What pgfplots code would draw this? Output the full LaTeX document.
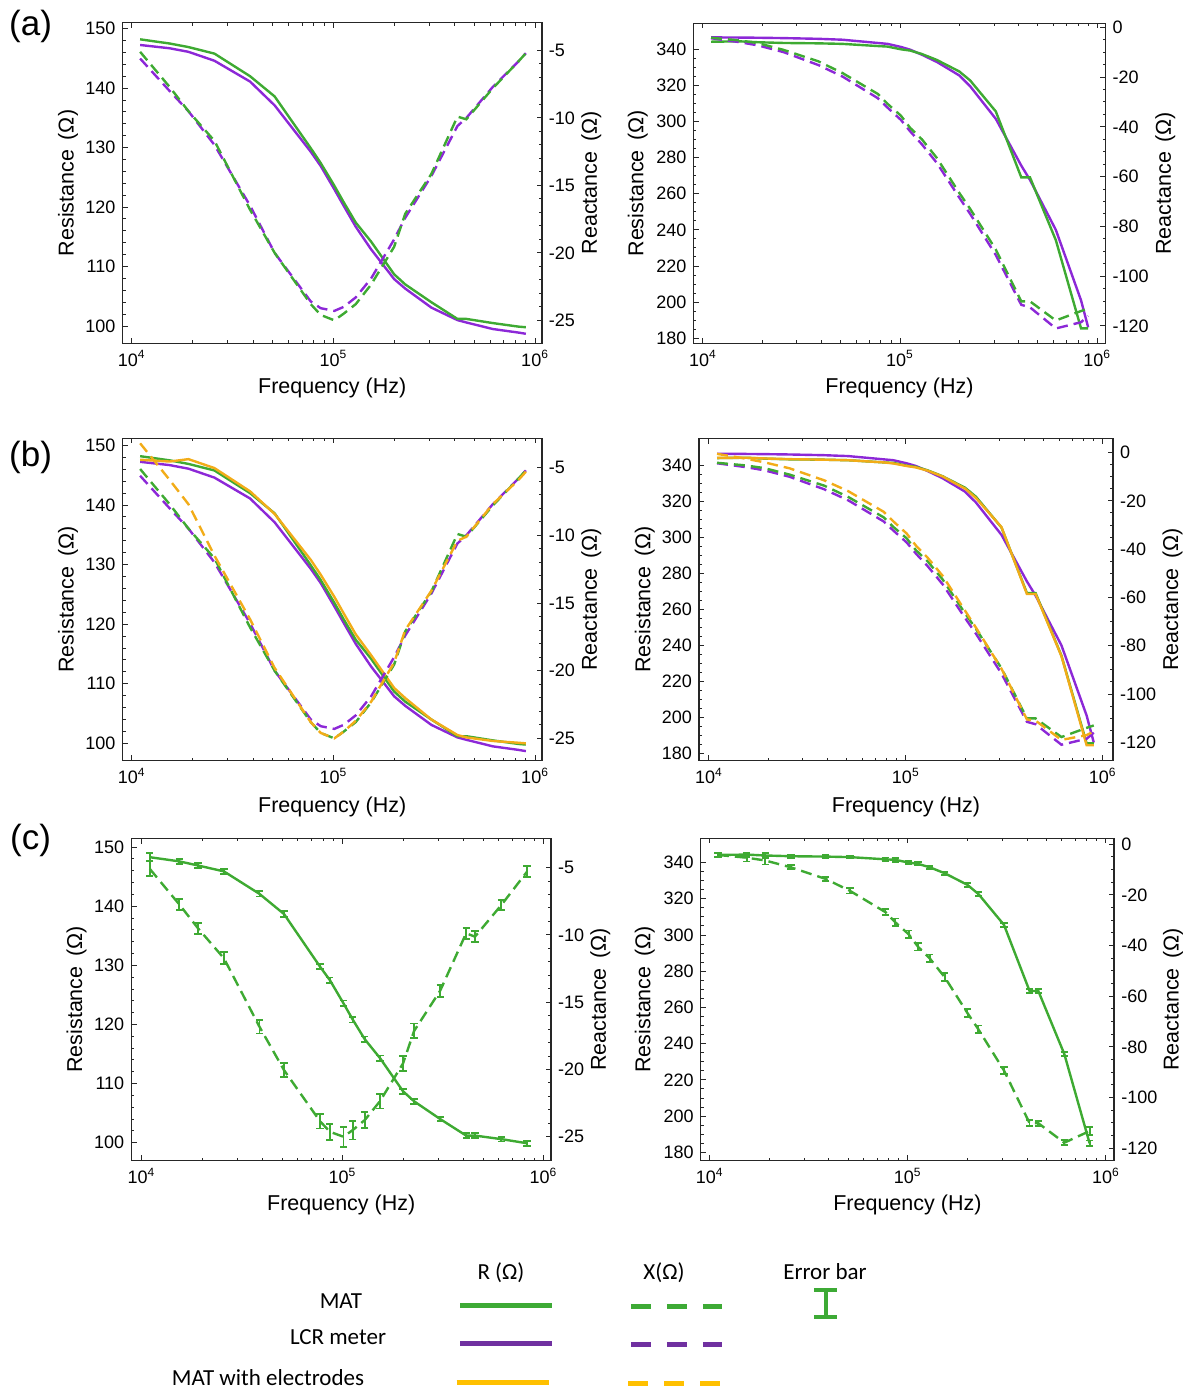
\documentclass[border=0pt]{standalone}
\usepackage{fontspec}
\setmainfont{Liberation Sans}
\newfontfamily\legfont{Carlito}
\usepackage{pgfplots}
\usepackage{pgfplotstable}
\pgfplotsset{compat=1.18}
\definecolor{gplot}{RGB}{62,170,50}
\definecolor{pplot}{RGB}{140,40,215}
\definecolor{oplot}{RGB}{242,172,24}
\definecolor{glegend}{RGB}{61,170,53}
\definecolor{plegend}{RGB}{112,48,160}
\definecolor{ylegend}{RGB}{255,192,0}

\pgfplotstableread{
f Rg Rp Ry Xg Xp Xy
11000 148.2 147.25 147.6 -5.1 -5.6 -3.2
15400 147.5 146.7 147.3 -7.7 -8.0 -5.9
19100 146.9 146.1 147.7 -9.5 -9.5 -7.7
25700 145.8 144.6 146.2 -11.7 -12.0 -11.5
38600 142.0 141.1 142.3 -16.8 -16.5 -16.2
51100 138.6 137.1 138.5 -20.0 -20.0 -19.8
77200 129.9 129.3 130.8 -23.8 -23.6 -23.8
86500 127.4 126.9 128.3 -24.6 -24.1 -24.6
101000 123.6 123.0 124.6 -25.0 -24.3 -25.0
112500 120.8 120.2 121.8 -24.5 -24.0 -24.5
129000 117.4 116.7 118.3 -23.8 -23.3 -23.7
153700 114.2 112.9 114.8 -22.35 -21.9 -22.3
200000 108.7 107.9 109.3 -19.55 -19.0 -19.4
227000 107.0 106.3 107.6 -17.1 -17.4 -17.0
306000 104.0 103.1 104.0 -14.15 -14.3 -14.1
412000 101.2 101.0 101.4 -9.9 -10.6 -10.4
456000 101.2 100.6 101.0 -10.1 -10.0 -10.1
617000 100.5 99.5 100.4 -7.8 -7.7 -7.7
828000 99.9 98.9 100.1 -5.8 -5.8 -5.9
900000 99.8 98.7 100.0 -5.2 -5.2 -5.3
}\tabL

\pgfplotstableread{
f Rg Rp Ry Xg Xp Xy
11000 344.2 346.6 344.3 -4.2 -4.4 -0.5
15400 344.4 346.5 344.4 -5.3 -6.0 -2.5
19100 343.9 346.4 344.0 -6.4 -7.3 -4.0
25700 343.5 346.2 343.6 -9.1 -10.0 -6.5
38600 343.3 345.8 343.3 -13.7 -15.2 -11.5
51100 343.0 345.3 343.0 -18.4 -19.8 -16.0
77200 341.8 343.5 341.8 -26.8 -28.5 -24.5
86500 341.5 343.0 341.2 -30.8 -32.3 -28.5
101000 340.0 341.3 339.8 -35.5 -37.2 -33.5
112500 339.3 339.8 339.0 -40.4 -41.8 -38.5
129000 337.4 337.0 337.2 -45.0 -47.0 -43.5
153700 334.1 333.0 334.0 -52.5 -54.5 -51.0
200000 327.7 325.5 327.2 -66.6 -68.5 -65.5
227000 322.7 319.5 322.0 -73.0 -75.0 -72.5
306000 305.6 301.5 305.8 -89.3 -91.5 -89.5
412000 269.1 275.6 268.6 -110.1 -111.5 -110.5
456000 269.1 267.7 268.6 -110.1 -112.5 -111.0
617000 234.3 240.0 234.0 -117.8 -121.0 -119.0
828000 185.5 201.0 184.5 -114.0 -118.5 -117.0
900000 185.5 186.0 184.5 -113.0 -116.0 -115.5
}\tabR

\pgfplotstableread{
f R eR X eX
11000 148.3 0.7 -5.1 0.55
15400 147.6 0.45 -7.73 0.4
19100 146.9 0.45 -9.51 0.4
25700 145.9 0.45 -11.74 0.45
38600 142.1 0.45 -16.82 0.5
51100 138.7 0.45 -20.04 0.5
77200 129.8 0.45 -23.84 0.55
86500 127.5 0.45 -24.63 0.6
101000 123.6 0.45 -25.0 0.75
112500 120.8 0.45 -24.5 0.7
129000 117.5 0.45 -23.76 0.6
153700 114.3 0.45 -22.35 0.55
200000 108.7 0.4 -19.55 0.55
227000 107.0 0.4 -17.14 0.55
306000 104.0 0.4 -14.15 0.45
412000 101.2 0.4 -9.88 0.4
456000 101.2 0.4 -10.13 0.4
617000 100.6 0.4 -7.78 0.35
828000 99.9 0.4 -5.3 0.4
}\tabCL

\pgfplotstableread{
f R eR X eX
11000 344.2 1.2 -4.2 0.8
15400 344.4 1.2 -5.3 1.5
19100 343.9 1.5 -6.4 1.6
25700 343.5 0.8 -9.1 0.8
38600 343.3 0.8 -13.7 0.9
51100 343.0 0.8 -18.4 1.0
77200 341.8 1.0 -26.8 1.2
86500 341.5 1.0 -30.8 1.5
101000 340.0 1.0 -35.5 1.5
112500 339.3 0.8 -40.4 1.5
129000 337.4 0.8 -45.0 1.5
153700 334.1 0.8 -52.5 1.6
200000 327.7 1.0 -66.6 1.5
227000 322.7 1.0 -73.0 1.5
306000 305.6 1.0 -89.3 1.5
412000 269.1 1.2 -110.1 1.2
456000 269.1 1.2 -110.1 1.0
617000 234.3 1.0 -117.8 1.0
828000 185.0 1.5 -113.2 1.5
}\tabCR

\pgfplotsset{
  panel/.style={scale only axis, anchor=south west,
    tick align=inside, major tick length=2.6pt, minor tick length=1.5pt,
    every tick/.append style={line width=0.5pt, black!85},
    axis line style={line width=0.75pt, black!85},
    tick label style={font=\fontsize{9}{10}\selectfont},
    every axis label/.append style={font=\fontsize{10.75}{12}\selectfont},
    /pgf/number format/assume math mode=true,
    xtick={1e4,1e5,1e6},
    xticklabels={10\textsuperscript{4},10\textsuperscript{5},10\textsuperscript{6}},
    minor xtick={20000,30000,40000,50000,60000,70000,80000,90000,200000,300000,400000,500000,600000,700000,800000,900000},
  },
  lax/.style={panel, ytick pos=left, xlabel={Frequency (Hz)},
    ylabel={Resistance\hspace{0.45em}(Ω)}},
  rax/.style={panel, axis y line*=right, axis x line=none, ytick pos=right,
    ylabel={Reactance\hspace{0.45em}(Ω)}},
  lowR/.style={ytick={100,110,...,150}, minor y tick num=4},
  highR/.style={ytick={180,200,...,340}, minor y tick num=3},
  lowX/.style={ytick={-25,-20,...,-5}, minor y tick num=4},
  highX/.style={ytick={-120,-100,...,0}, minor y tick num=3},
  Rline/.style={line width=1.2pt, solid},
  Xline/.style={line width=1.2pt, dash pattern=on 5.5pt off 3pt},
  ebar/.style={error bars/.cd, y dir=both, y explicit,
    error bar style={solid, line width=0.9pt},
    error mark options={rotate=90, solid, gplot, mark size=1.8pt, line width=0.9pt}},
}

\begin{document}
\begin{tikzpicture}
\useasboundingbox (0,0) rectangle (593pt,697pt);

% ---------- (a) left ----------
\begin{semilogxaxis}[lax, at={(61.25pt,525.35pt)}, width=209.7pt, height=160.3pt,
  xmin=8995, xmax=1.081e6, ymin=97.1, ymax=151.0, lowR,
  ylabel style={at={(axis description cs:-0.13,0.5)}, anchor=center},
  xlabel style={at={(axis description cs:0.5,-0.139)}, anchor=center}]
\addplot[pplot, Rline] table[x=f, y=Rp] {\tabL};
\addplot[gplot, Rline] table[x=f, y=Rg] {\tabL};
\end{semilogxaxis}
\begin{semilogxaxis}[rax, at={(61.25pt,525.35pt)}, width=209.7pt, height=160.3pt,
  xmin=8995, xmax=1.081e6, ymin=-26.7, ymax=-2.94, lowX,
  ylabel style={at={(axis description cs:1.118,0.5)}, anchor=center}]
\addplot[pplot, Xline] table[x=f, y=Xp] {\tabL};
\addplot[gplot, Xline] table[x=f, y=Xg] {\tabL};
\end{semilogxaxis}

% ---------- (a) right ----------
\begin{semilogxaxis}[lax, at={(346.7pt,525.35pt)}, width=206.05pt, height=160pt,
  xmin=8954, xmax=1.102e6, ymin=177.2, ymax=354.4, highR,
  ylabel style={at={(axis description cs:-0.135,0.5)}, anchor=center},
  xlabel style={at={(axis description cs:0.5,-0.14)}, anchor=center}]
\addplot[pplot, Rline] table[x=f, y=Rp] {\tabR};
\addplot[gplot, Rline] table[x=f, y=Rg] {\tabR};
\end{semilogxaxis}
\begin{semilogxaxis}[rax, at={(346.7pt,525.35pt)}, width=206.05pt, height=160pt,
  xmin=8954, xmax=1.102e6, ymin=-126.96, ymax=1.6, highX,
  ylabel style={at={(axis description cs:1.145,0.5)}, anchor=center}]
\addplot[pplot, Xline] table[x=f, y=Xp] {\tabR};
\addplot[gplot, Xline] table[x=f, y=Xg] {\tabR};
\end{semilogxaxis}

% ---------- (b) left ----------
\begin{semilogxaxis}[lax, at={(61.25pt,316.65pt)}, width=209.7pt, height=161.2pt,
  xmin=8995, xmax=1.081e6, ymin=97.09, ymax=151.2, lowR,
  ylabel style={at={(axis description cs:-0.13,0.5)}, anchor=center},
  xlabel style={at={(axis description cs:0.5,-0.143)}, anchor=center}]
\addplot[pplot, Rline] table[x=f, y=Rp] {\tabL};
\addplot[gplot, Rline] table[x=f, y=Rg] {\tabL};
\addplot[oplot, Rline] table[x=f, y=Ry] {\tabL};
\end{semilogxaxis}
\begin{semilogxaxis}[rax, at={(61.25pt,316.65pt)}, width=209.7pt, height=161.2pt,
  xmin=8995, xmax=1.081e6, ymin=-26.65, ymax=-2.83, lowX,
  ylabel style={at={(axis description cs:1.118,0.5)}, anchor=center}]
\addplot[pplot, Xline] table[x=f, y=Xp] {\tabL};
\addplot[gplot, Xline] table[x=f, y=Xg] {\tabL};
\addplot[oplot, Xline] table[x=f, y=Xy] {\tabL};
\end{semilogxaxis}

% ---------- (b) right ----------
\begin{semilogxaxis}[lax, at={(349.5pt,316.65pt)}, width=207pt, height=161.2pt,
  xmin=8913, xmax=1.127e6, ymin=175.9, ymax=355.2, highR,
  ylabel style={at={(axis description cs:-0.131,0.5)}, anchor=center},
  xlabel style={at={(axis description cs:0.5,-0.143)}, anchor=center}]
\addplot[pplot, Rline] table[x=f, y=Rp] {\tabR};
\addplot[gplot, Rline] table[x=f, y=Rg] {\tabR};
\addplot[oplot, Rline] table[x=f, y=Ry] {\tabR};
\end{semilogxaxis}
\begin{semilogxaxis}[rax, at={(349.5pt,316.65pt)}, width=207pt, height=161.2pt,
  xmin=8913, xmax=1.127e6, ymin=-127.6, ymax=5.94, highX,
  ylabel style={at={(axis description cs:1.144,0.5)}, anchor=center}]
\addplot[pplot, Xline] table[x=f, y=Xp] {\tabR};
\addplot[gplot, Xline] table[x=f, y=Xg] {\tabR};
\addplot[oplot, Xline] table[x=f, y=Xy] {\tabR};
\end{semilogxaxis}

% ---------- (c) left ----------
\begin{semilogxaxis}[lax, at={(65.65pt,116.65pt)}, width=209.9pt, height=161.2pt,
  xmin=8892, xmax=1.091e6, ymin=96.95, ymax=151.5, lowR,
  ylabel style={at={(axis description cs:-0.1305,0.5)}, anchor=center},
  xlabel style={at={(axis description cs:0.5,-0.137)}, anchor=center}]
\addplot[gplot, Rline, ebar] table[x=f, y=R, y error=eR] {\tabCL};
\end{semilogxaxis}
\begin{semilogxaxis}[rax, at={(65.65pt,116.65pt)}, width=209.9pt, height=161.2pt,
  xmin=8892, xmax=1.091e6, ymin=-26.78, ymax=-2.82, lowX,
  ylabel style={at={(axis description cs:1.117,0.5)}, anchor=center}]
\addplot[gplot, Xline, ebar] table[x=f, y=X, y error=eX] {\tabCL};
\end{semilogxaxis}

% ---------- (c) right ----------
\begin{semilogxaxis}[lax, at={(350.3pt,116.65pt)}, width=206.8pt, height=161.2pt,
  xmin=8995, xmax=1.102e6, ymin=175.4, ymax=353.4, highR,
  ylabel style={at={(axis description cs:-0.135,0.5)}, anchor=center},
  xlabel style={at={(axis description cs:0.5,-0.137)}, anchor=center}]
\addplot[gplot, Rline, ebar] table[x=f, y=R, y error=eR] {\tabCR};
\end{semilogxaxis}
\begin{semilogxaxis}[rax, at={(350.3pt,116.65pt)}, width=206.8pt, height=161.2pt,
  xmin=8995, xmax=1.102e6, ymin=-124.9, ymax=2.37, highX,
  ylabel style={at={(axis description cs:1.142,0.5)}, anchor=center}]
\addplot[gplot, Xline, ebar] table[x=f, y=X, y error=eX] {\tabCR};
\end{semilogxaxis}

% ---------- panel letters ----------
\node[font=\fontsize{17.5}{20}\selectfont] at (15.3pt,683.65pt) {(a)};
\node[font=\fontsize{17.5}{20}\selectfont] at (15.3pt,468.25pt) {(b)};
\node[font=\fontsize{17.5}{20}\selectfont] at (15.3pt,276.6pt) {(c)};

% ---------- legend ----------
\begin{scope}[font=\legfont\fontsize{11.5}{13}\selectfont]
\node[anchor=base] at (250.5pt,57.35pt) {R (Ω)};
\node[anchor=base] at (332pt,57.35pt) {X(Ω)};
\node[anchor=base] at (412.5pt,57.35pt) {Error bar};
\node[anchor=base] at (170.5pt,42.85pt) {MAT};
\node[anchor=base] at (169pt,24.5pt) {LCR meter};
\node[anchor=base] at (134pt,4.5pt) {MAT with electrodes};
\end{scope}
\draw[glegend, line width=2.5pt] (230pt,44.15pt) -- (275.85pt,44.15pt);
\draw[plegend, line width=2.5pt] (230pt,25pt) -- (275.85pt,25pt);
\draw[ylegend, line width=2.5pt] (228.35pt,5.85pt) -- (274.65pt,5.85pt);
\draw[glegend, line width=2.5pt, dash pattern=on 10pt off 8pt] (315.4pt,43.65pt) -- (361pt,43.65pt);
\draw[plegend, line width=2.5pt, dash pattern=on 10pt off 8pt] (315.4pt,24.5pt) -- (361pt,24.5pt);
\draw[ylegend, line width=2.5pt, dash pattern=on 10pt off 8pt] (314.2pt,5.35pt) -- (359.8pt,5.35pt);
\draw[glegend, line width=2pt] (412.75pt,52pt) -- (412.75pt,38.35pt);
\draw[glegend, line width=2pt] (407.1pt,52pt) -- (418.4pt,52pt);
\draw[glegend, line width=2pt] (407.1pt,38.35pt) -- (418.4pt,38.35pt);
\end{tikzpicture}
\end{document}
